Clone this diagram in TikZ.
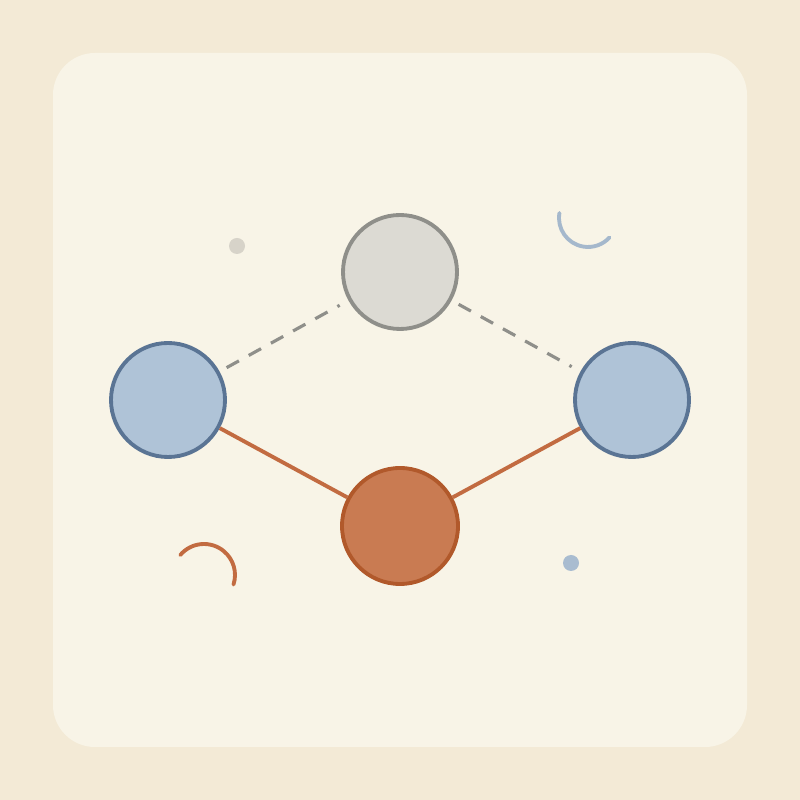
\documentclass[tikz,border=0pt]{standalone}
\usepackage{tikz}
\usetikzlibrary{positioning}
\definecolor{outerbg}{HTML}{F3EAD6}
\definecolor{innerbg}{HTML}{F8F4E7}
\definecolor{bluefill}{HTML}{AFC3D7}
\definecolor{bluedraw}{HTML}{5A7494}
\definecolor{grayfill}{HTML}{DCDAD3}
\definecolor{graydraw}{HTML}{8F8F8A}
\definecolor{orangefill}{HTML}{C97B52}
\definecolor{orangedraw}{HTML}{B1592B}
\definecolor{orangeline}{HTML}{C26B41}
\definecolor{lightdot}{HTML}{D7D3C9}
\definecolor{bluedot}{HTML}{A9BCD0}
\definecolor{bluearc}{HTML}{A5B8CC}
\tikzset{
  blob/.style={circle, minimum size=1.14cm, inner sep=0pt, line width=1.1pt},
  bluenode/.style={blob, fill=bluefill, draw=bluedraw},
  graynode/.style={blob, fill=grayfill, draw=graydraw},
  orangenode/.style={blob, fill=orangefill, draw=orangedraw, minimum size=1.16cm},
  dashlink/.style={graydraw, line width=0.9pt, dash pattern=on 4pt off 3.2pt, shorten <=0.08cm, shorten >=0.1cm},
  solidlink/.style={orangeline, line width=1.1pt},
}
\begin{document}
\begin{tikzpicture}
      % Background
      \fill[outerbg] (0,0) rectangle (8,8);
      \fill[innerbg, rounded corners=0.42cm] (0.53,0.53) rectangle (7.47,7.47);
      \useasboundingbox (0,0) rectangle (8,8);
      % Define nodes
      \node[graynode]   (top)    at (4.00,5.28) {};
      \node[bluenode]   (left)   at (1.68,4.00) {};
      \node[bluenode]   (right)  at (6.32,4.00) {};
      \node[orangenode] (bottom) at (4.00,2.74) {};
      % Connect nodes
      \draw[dashlink] (left) -- (top);
      \draw[dashlink] (top) -- (right);
      \draw[solidlink] (left) -- (bottom);
      \draw[solidlink] (bottom) -- (right);
      % Decorations
      \fill[lightdot] (2.37,5.54) circle (0.08);
      \fill[bluedot] (5.71,2.37) circle (0.08);
      \draw[bluearc, line width=1.1pt, line cap=round] (5.88,5.82) ++(170:0.29) arc (170:318:0.29);
      \draw[orangeline, line width=1.1pt, line cap=round] (2.04,2.25) ++(140:0.31) arc (140:-18:0.31);
    \end{tikzpicture}
\end{document}
